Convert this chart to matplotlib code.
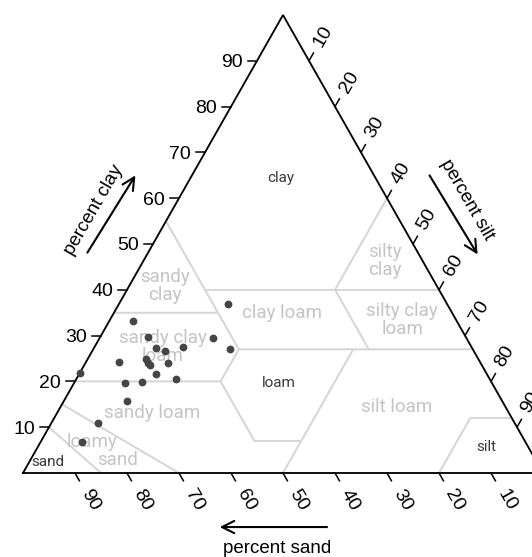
import matplotlib
matplotlib.use("Agg")
import matplotlib.pyplot as plt
import numpy as np

plt.rcParams['font.family'] = ['Liberation Sans', 'DejaVu Sans']

# ---- data (percent) ----
sample_sand = [78.2, 62.2, 61.0, 60.8, 59.4, 55.5, 48.8, 42.2, 46.7, 69.3, 63.9,
               63.9, 63.8, 60.2, 63.6, 70.5, 67.2, 60.4, 72.2, 80.2, 85.2]
sample_silt = [0.0, 4.6, 9.2, 12.0, 14.0, 16.9, 21.7, 20.9, 26.3, 6.4, 11.2,
               12.0, 12.6, 15.8, 14.8, 9.9, 12.9, 19.1, 12.1, 8.9, 8.0]
sample_clay = [21.8, 33.2, 29.8, 27.2, 26.6, 27.6, 29.5, 36.9, 27.0, 24.3, 24.9,
               24.1, 23.6, 24.0, 21.6, 19.6, 19.9, 20.5, 15.7, 10.9, 6.8]

tick_values = [10, 20, 30, 40, 50, 60, 70, 80, 90]

# USDA texture classes: vertices as (sand, silt, clay)
classes = {
    "clay": [(0, 0, 100), (0, 40, 60), (20, 40, 40), (45, 15, 40), (45, 0, 55)],
    "sandy clay": [(45, 0, 55), (65, 0, 35), (45, 20, 35), (45, 15, 40)],
    "silty clay": [(0, 40, 60), (0, 60, 40), (20, 40, 40)],
    "sandy clay loam": [(65, 0, 35), (80, 0, 20), (52, 28, 20), (45, 28, 27), (45, 20, 35)],
    "clay loam": [(45, 15, 40), (20, 40, 40), (20, 53, 27), (45, 28, 27)],
    "silty clay loam": [(20, 40, 40), (0, 60, 40), (0, 73, 27), (20, 53, 27)],
    "loam": [(45, 28, 27), (23, 50, 27), (43, 50, 7), (52, 41, 7), (52, 28, 20)],
    "silt loam": [(23, 50, 27), (0, 73, 27), (0, 88, 12), (8, 80, 12), (20, 80, 0),
                  (50, 50, 0), (43, 50, 7)],
    "silt": [(0, 88, 12), (0, 100, 0), (20, 80, 0), (8, 80, 12)],
    "sandy loam": [(80, 0, 20), (52, 28, 20), (52, 41, 7), (43, 50, 7), (50, 50, 0),
                   (70, 30, 0), (85, 0, 15)],
    "loamy sand": [(85, 0, 15), (70, 30, 0), (85, 15, 0), (90, 0, 10)],
    "sand": [(90, 0, 10), (85, 15, 0), (100, 0, 0)],
}


def tern(sand, silt, clay):
    sand = np.asarray(sand, float); silt = np.asarray(silt, float); clay = np.asarray(clay, float)
    return silt + clay / 2.0, clay


fig = plt.figure(figsize=(5.32, 5.57), dpi=100)
ax = fig.add_axes([0, 0, 1, 1])
ax.set_xlim(-4.42, 97.88)
ax.set_ylim(-18.34, 103.28)
ax.axis('off')

grey_line = '#d6d6d6'
grey_text = '#c4c4c4'
dark_text = '#3a3a3a'

for name, verts in classes.items():
    s, si, c = zip(*verts)
    x, y = tern(s, si, c)
    ax.fill(x, y, facecolor='none', edgecolor=grey_line, lw=1.2, zorder=1)

# triangle border
bx, by = tern([100, 0, 0, 100], [0, 100, 0, 0], [0, 0, 100, 0])
ax.plot(bx, by, color='black', lw=1.3, zorder=3, solid_joinstyle='miter', clip_on=True)

# region labels
grey_labels = [
    ("sandy\nclay", 27.3, 40.8), ("silty\nclay", 69.6, 46.3), ("clay loam", 49.8, 34.9),
    ("silty clay\nloam", 72.9, 33.4), ("sandy clay\nloam", 26.9, 27.5),
    ("silt loam", 71.9, 14.4), ("sandy loam", 24.8, 13.1),
    ("loamy", 13.3, 6.8), ("sand", 18.1, 2.8),
]
for t, x, y in grey_labels:
    ax.text(x, y, t, color=grey_text, fontsize=13.5, ha='center', va='center',
            linespacing=0.95, family=['Roboto', 'DejaVu Sans'], zorder=2)
dark_labels = [("clay", 49.6, 64.4), ("loam", 49.2, 19.7), ("sand", 4.8, 2.4), ("silt", 89.2, 5.7)]
for t, x, y in dark_labels:
    ax.text(x, y, t, color=dark_text, fontsize=11, ha='center', va='center',
            family=['Roboto', 'DejaVu Sans'], zorder=2)

# samples
px, py = tern(sample_sand, sample_silt, sample_clay)
ax.plot(px, py, 'o', color='#454545', ms=4.6, mec='#454545', zorder=4)

# ticks and labels
tl = 1.7
for v in tick_values:
    # clay axis (left edge)
    x0, y0 = tern(100 - v, 0, v)
    ax.plot([x0, x0 - tl], [y0, y0], color='black', lw=1.1)
    ax.text(x0 - 2.7, y0 - 0.4, str(v), ha='right', va='center', fontsize=14)
    # silt axis (right edge)
    x0, y0 = tern(0, v, 100 - v)
    ax.plot([x0, x0 + 0.5 * tl], [y0, y0 + tl], color='black', lw=1.1)
    ax.text(x0 + 0.5 * 5.4, y0 + 5.4, str(v), ha='center', va='center', fontsize=14, rotation=60)
    # sand axis (bottom edge)
    x0, y0 = tern(v, 100 - v, 0)
    ax.plot([x0, x0 + 0.5 * tl], [y0, y0 - tl], color='black', lw=1.1)
    ax.text(x0 + 0.5 * 5.9, y0 - 5.9, str(v), ha='center', va='center', fontsize=14, rotation=-60)

# axis titles with arrows
arrow_kw = dict(arrowstyle='->', color='black', lw=1.5, mutation_scale=22)
ax.annotate('', xy=(21.9, 65.5), xytext=(12.1, 47.6), arrowprops=arrow_kw)
ax.text(13.65, 57.4, 'percent clay', rotation=60, ha='center', va='center', fontsize=13.5)
ax.annotate('', xy=(87.7, 47.2), xytext=(77.9, 65.5), arrowprops=arrow_kw)
ax.text(85.4, 59.6, 'percent silt', rotation=-60, ha='center', va='center', fontsize=13.5)
ax.annotate('', xy=(37.3, -11.8), xytext=(59.0, -11.8), arrowprops=arrow_kw)
ax.text(48.8, -16.4, 'percent sand', ha='center', va='center', fontsize=13.5)

fig.savefig('out.png', dpi=100)
